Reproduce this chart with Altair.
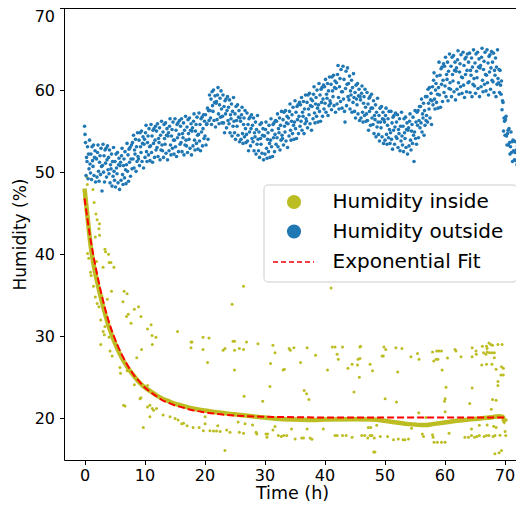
import altair as alt
import pandas as pd

# ---------------- data ----------------
# Humidity outside: 12 readings per hour (hour h, readings at h + i/12)
outside_rows = [
    "55.6 54.6 53.6 49.6 51.8 51.3 53.1 49.2 52.2 50.4 53.9 51.0",
    "49.9 52.2 49.1 53.1 51.4 50.7 53.3 49.6 51.8 52.6 48.8 51.7",
    "51.6 49.4 52.4 53.3 50.1 48.9 51.2 52.0 49.7 52.9 50.7 47.7",
    "50.8 53.4 50.0 52.0 48.8 52.7 51.1 52.9 49.4 51.5 53.2 50.3",
    "51.8 49.8 52.7 48.7 50.9 50.4 52.2 48.3 51.3 49.5 53.0 50.1",
    "49.0 51.3 48.2 52.2 50.5 49.8 52.4 48.7 50.9 51.7 47.9 50.8",
    "51.2 49.0 52.0 52.9 49.7 48.5 50.8 51.6 49.3 52.5 50.3 48.6",
    "50.9 53.5 50.1 52.1 48.9 52.8 51.2 53.0 49.5 51.6 53.3 50.4",
    "53.6 51.6 54.5 50.5 52.7 52.2 54.0 50.1 53.1 51.3 54.8 51.9",
    "51.6 53.9 50.8 54.8 53.1 52.4 55.0 51.3 53.5 54.3 50.5 53.4",
    "54.0 51.8 54.8 55.7 52.5 51.3 53.6 54.4 52.1 55.3 53.1 51.4",
    "53.2 55.8 52.4 54.4 51.2 55.1 53.5 55.3 51.8 53.9 55.6 52.7",
    "55.0 53.0 55.9 51.9 54.1 53.6 55.4 51.5 54.5 52.7 56.2 53.3",
    "52.6 54.9 51.8 55.8 54.1 53.4 56.0 52.3 54.5 55.3 51.5 54.4",
    "54.8 52.6 55.6 56.5 53.3 52.1 54.4 55.2 52.9 56.1 53.9 52.2",
    "53.9 56.5 53.1 55.1 51.9 55.8 54.2 56.0 52.5 54.6 56.3 53.4",
    "55.6 53.6 56.5 52.5 54.7 54.2 56.0 52.1 55.1 53.3 56.8 53.9",
    "53.2 55.5 52.4 56.4 54.7 54.0 56.6 52.9 55.1 55.9 52.1 55.0",
    "55.4 53.2 56.2 57.1 53.9 52.7 55.0 55.8 53.5 56.7 54.5 52.8",
    "54.6 57.2 53.8 55.8 52.6 56.5 54.9 56.7 53.2 55.3 57.0 54.1",
    "56.2 54.4 57.0 53.3 55.8 55.9 57.8 54.0 57.5 56.3 59.4 57.5",
    "56.6 58.9 55.8 59.8 58.1 57.4 60.0 56.3 58.5 59.3 55.5 58.4",
    "58.6 56.4 59.4 60.3 57.1 55.9 58.2 59.0 56.7 59.9 57.7 56.0",
    "56.8 59.4 56.0 58.0 54.8 58.7 57.1 58.9 55.4 57.5 59.2 56.3",
    "57.9 55.9 58.8 54.8 57.0 56.5 58.3 54.4 57.4 55.6 59.1 56.2",
    "54.8 57.1 54.0 58.0 56.3 55.6 58.2 54.5 56.7 57.5 53.7 56.6",
    "56.2 54.0 57.0 57.9 54.7 53.5 55.8 56.6 54.3 57.5 55.3 53.6",
    "54.6 57.2 53.8 55.8 52.6 56.5 54.9 56.7 53.2 55.3 57.0 54.1",
    "55.7 53.7 56.6 52.6 54.8 54.3 56.1 52.2 55.2 53.4 56.9 54.0",
    "52.6 54.9 51.8 55.8 54.1 53.4 56.0 52.3 54.5 55.3 51.5 54.4",
    "54.4 52.2 55.2 56.1 52.9 51.7 54.0 54.8 52.5 55.7 53.5 51.8",
    "53.9 56.5 53.1 55.1 51.9 55.8 54.2 56.0 52.5 54.6 56.3 53.4",
    "56.2 54.2 57.1 53.1 55.3 54.8 56.6 52.7 55.7 53.9 57.4 54.5",
    "54.1 56.4 53.3 57.3 55.6 54.9 57.5 53.8 56.0 56.8 53.0 55.9",
    "56.6 54.4 57.4 58.3 55.1 53.9 56.2 57.0 54.7 57.9 55.7 54.0",
    "56.1 58.7 55.3 57.3 54.1 58.0 56.4 58.2 54.7 56.8 58.5 55.6",
    "58.2 56.2 59.1 55.1 57.3 56.8 58.6 54.7 57.7 55.9 59.4 56.5",
    "56.2 58.5 55.4 59.4 57.7 57.0 59.6 55.9 58.1 58.9 55.1 58.0",
    "58.7 56.5 59.5 60.4 57.2 56.0 58.3 59.1 56.8 60.0 57.8 56.1",
    "58.2 60.8 57.4 59.4 56.2 60.1 58.5 60.3 56.8 58.9 60.6 57.7",
    "60.4 58.4 61.3 57.3 59.5 59.0 60.8 56.9 59.9 58.1 61.6 58.7",
    "58.4 60.7 57.6 61.6 59.9 59.2 61.8 58.1 60.3 61.1 57.3 60.2",
    "60.9 58.3 61.9 63.0 59.1 57.7 60.4 61.4 58.6 62.5 59.8 57.8",
    "59.8 62.9 58.9 61.3 57.4 56.1 60.2 62.3 58.1 60.7 62.7 59.2",
    "60.8 58.8 61.7 57.7 59.9 59.4 61.2 57.3 60.3 58.5 62.0 59.1",
    "57.4 59.7 56.6 60.6 58.9 58.2 60.8 57.1 59.3 60.1 56.3 59.2",
    "58.8 56.6 59.6 60.5 57.3 56.1 58.4 59.2 56.9 60.1 57.9 56.2",
    "57.1 59.7 56.3 58.3 55.1 59.0 57.4 59.2 55.7 57.8 59.5 56.6",
    "57.8 55.8 58.7 54.7 56.9 56.4 58.2 54.3 57.3 55.5 59.0 56.1",
    "54.6 56.9 53.8 57.8 56.1 55.4 58.0 54.3 56.5 57.3 53.5 56.4",
    "56.1 53.9 56.9 57.8 54.6 53.4 55.7 56.5 54.2 57.4 55.2 53.5",
    "54.8 57.4 54.0 56.0 52.8 56.7 55.1 56.9 53.4 55.5 57.2 54.3",
    "56.1 54.1 57.0 53.0 55.2 54.7 56.5 52.6 55.6 53.8 57.3 54.4",
    "53.3 55.6 52.5 56.5 54.8 54.1 56.7 53.0 55.2 56.0 52.2 55.1",
    "55.4 53.2 56.2 57.1 53.9 52.7 55.0 55.8 53.5 56.7 54.5 51.3",
    "54.9 57.5 54.1 56.1 53.4 57.3 55.7 57.5 54.2 56.3 58.0 55.4",
    "58.0 56.0 58.9 54.9 57.1 56.6 58.4 54.5 57.5 55.7 59.2 56.3",
    "56.9 59.2 56.1 60.1 58.4 57.7 60.3 56.6 58.8 59.6 55.8 58.7",
    "60.4 58.2 61.2 62.1 58.9 57.7 60.0 60.8 58.5 61.7 59.5 57.8",
    "60.3 63.4 59.4 61.8 57.9 62.6 60.7 62.8 58.6 61.2 63.2 59.7",
    "62.9 60.5 64.0 59.2 61.9 61.3 63.4 58.7 62.3 60.2 64.4 60.9",
    "60.1 62.9 59.2 64.0 61.9 61.1 64.2 59.8 62.4 63.4 58.8 62.3",
    "62.7 60.1 63.7 64.8 60.9 59.5 62.2 63.2 60.4 64.3 61.6 59.6",
    "61.5 64.6 60.6 63.0 59.1 63.8 61.9 64.0 59.8 62.4 64.4 60.9",
    "63.4 61.0 64.5 59.7 62.4 61.8 63.9 59.2 62.8 60.7 64.9 61.4",
    "60.5 63.3 59.6 64.4 62.3 61.5 64.6 60.2 62.8 63.8 59.2 62.7",
    "63.0 60.4 64.0 65.1 61.2 59.8 62.5 63.5 60.7 64.6 61.9 59.9",
    "61.8 64.9 60.9 63.3 59.4 64.1 62.2 64.3 60.1 62.7 64.7 61.2",
    "63.4 61.0 64.5 59.7 62.4 61.8 63.9 59.2 62.8 60.7 64.9 61.4",
    "60.9 62.5 59.7 62.4 60.6 59.5 61.1 57.6 58.7 58.5 55.0 56.6",
    "56.2 54.5 56.4 56.8 54.4 53.3 54.7 55.1 53.3 55.3 53.6 52.2",
    "53.1 54.9 52.4 53.7 51.3 53.9 52.6 53.8 51.5 52.4 53.7 51.4",
    "52.7 50.9 53.2 49.9 51.4 51.1 52.1 49.3 51.2 50.0 52.2 49.8",
    "49.2 50.6 48.6 50.9 49.6 48.9 50.6 47.8 49.4 49.9 47.3 49.1",
]

# Humidity inside: the dense main trace
inside_main_t = [0, 0.5, 1, 1.5, 2, 3, 4, 5, 6, 7, 8, 9, 10, 11, 12, 13, 14, 15, 16,
                 18, 20, 22, 25, 28, 30, 32, 35, 38, 40, 45, 48, 50, 52, 54, 56, 57,
                 58, 60, 62, 64, 66, 68, 69, 69.7, 70, 70.2]
inside_main_y = [48.0, 44.5, 41.2, 38.8, 37.0, 33.9, 31.3, 29.3, 27.7, 26.4, 25.4, 24.5,
                 23.8, 23.3, 22.8, 22.4, 22.1, 21.8, 21.6, 21.2, 20.95, 20.75, 20.5,
                 20.25, 20.1, 19.95, 19.85, 19.8, 19.85, 19.9, 19.85, 19.7, 19.5, 19.3,
                 19.2, 19.2, 19.3, 19.5, 19.7, 19.85, 20.0, 20.15, 20.25, 20.2, 19.6, 19.5]

# Humidity inside: scattered readings
inside_t = [
    0.36, 0.47, 1.4, 1.6, 1.9, 2.1, 2.5, 2.4, 1.8, 2.5, 3.4, 3.5, 4.0, 0.5, 0.7, 1.4, 4.1, 4.4,
    4.9, 3.1, 2.0, 1.0, 1.1, 1.5, 1.8, 2.6, 2.9, 4.5, 6.6, 7.1, 6.4, 2.1, 2.4, 3.8, 8.3, 9.0,
    9.4, 7.3, 7.0, 7.75, 2.7, 3.4, 4.1, 3.1, 3.3, 2.7, 10.5, 11.1, 11.25, 11.9, 11.3, 9.5,
    15.5, 4.25, 4.6, 8.7, 5.9, 6.0, 7.1, 8.3, 9.4, 10.5, 6.75, 10.5, 11.3, 12.0, 10.9, 11.5,
    10.9, 9.8, 6.5, 9.25, 13.1, 14.25, 15.1, 15.6, 16.5,
    26.5, 24.6, 41.1, 17.75, 17.9, 17.75, 19.75, 19.75, 20.75, 20.5, 24.75, 25.0, 23.1, 23.4,
    25.0, 25.8, 26.5, 27.0, 28.9, 25.0, 31.4, 31.75, 31.0, 33.1, 33.3, 30.9, 26.6, 29.7, 34.1,
    34.3, 34.9, 37.1, 38.5, 36.0, 36.6, 37.0, 37.4, 40.5, 41.3, 41.75, 43.0, 42.1, 42.3, 43.9,
    16.2, 17.1, 18.1, 19.1, 19.8, 20.1, 20.1, 20.9, 21.5, 22.0, 22.6, 22.2, 23.7, 24.25, 25.6,
    26.75, 25.8, 26.5, 28.0, 28.6, 28.7, 30.25, 30.5, 30.4, 31.75, 31.4, 32.3, 32.8, 33.2,
    33.7, 34.5, 35.1, 36.2, 36.5, 37.1, 37.6, 37.9, 39.8, 41.75, 42.1, 43.0, 43.6, 23.4,
    45.9, 46.0, 44.6, 45.6, 45.9, 45.5, 45.8, 44.9, 47.6, 48.0, 49.9, 50.2, 49.6, 49.8, 51.9,
    52.9, 52.2, 50.1, 52.0, 54.4, 55.5, 55.75, 58.0, 58.7, 59.1, 59.5, 58.2, 58.6, 58.9, 60.5,
    59.6, 60.25, 60.1, 60.0, 60.1, 55.7, 61.75, 61.9, 62.75, 64.6, 65.25, 65.3, 66.3, 67.0,
    67.4, 67.7, 68.0, 68.9, 69.6, 67.1, 67.1, 66.5, 66.9, 67.5, 67.9, 68.3, 64.6, 66.2, 67.0,
    67.9, 68.3, 68.6, 69.5, 69.8, 69.4, 69.8, 68.9, 68.9, 64.6, 68.0, 68.6, 64.2, 67.8,
    44.6, 46.2, 46.7, 47.2, 47.6, 47.9, 48.3, 47.3, 47.7, 48.7, 48.4, 49.3, 50.5, 51.5, 52.3,
    53.1, 53.4, 54.0, 54.5, 56.3, 56.5, 56.9, 58.0, 58.1, 58.25, 58.8, 59.5, 60.1, 60.75,
    63.4, 64.0, 64.5, 65.0, 65.4, 65.8, 66.6, 67.0, 67.4, 68.1, 68.4, 64.5, 65.8, 67.1, 68.2,
    68.6, 69.25, 70.2, 70.1, 68.4, 69.1, 69.5, 70.3, 48.2,
]
inside_y = [
    49.4, 48.5, 47.9, 46.3, 44.9, 44.2, 43.7, 43.1, 42.1, 42.3, 40.6, 40.3, 40.0, 40.1, 39.5,
    39.4, 39.0, 39.0, 38.4, 38.4, 39.1, 37.8, 37.4, 36.1, 34.8, 34.9, 34.9, 35.5, 35.5, 35.2,
    34.2, 34.0, 33.6, 34.5, 33.3, 33.6, 32.4, 32.7, 32.4, 31.6, 32.0, 31.2, 29.9, 30.6, 30.2,
    29.0, 30.9, 31.4, 30.1, 29.9, 29.0, 28.4, 30.6, 28.2, 27.6, 27.4, 26.2, 25.5, 25.8, 24.1,
    22.5, 24.0, 21.5, 21.4, 21.2, 21.2, 21.6, 21.0, 20.2, 18.9, 21.6, 22.4, 20.4, 20.2, 20.0,
    19.8, 19.4,
    36.1, 33.9, 35.9, 29.3, 29.3, 28.6, 29.9, 28.4, 29.8, 26.8, 29.4, 29.4, 28.3, 28.5, 28.3,
    28.5, 28.4, 29.3, 29.1, 25.9, 28.9, 28.0, 26.7, 25.9, 26.0, 23.9, 22.7, 22.1, 28.5, 28.3,
    28.6, 28.6, 27.7, 26.8, 23.4, 23.0, 22.3, 25.9, 28.7, 28.7, 28.7, 27.8, 27.2, 26.1,
    19.35, 19.1, 18.9, 18.9, 18.5, 20.2, 19.35, 18.5, 18.45, 18.45, 18.4, 19.1, 18.6, 18.3,
    19.55, 19.35, 18.3, 18.2, 19.2, 18.3, 18.1, 18.1, 18.1, 17.7, 19.0, 18.6, 17.9, 17.8,
    17.9, 17.9, 18.7, 17.5, 17.6, 17.6, 18.7, 17.6, 17.45, 18.7, 17.9, 17.9, 17.9, 17.9, 16.1,
    28.7, 28.8, 26.6, 27.2, 27.3, 26.5, 25.0, 23.2, 26.6, 25.8, 28.7, 28.4, 27.6, 27.6, 28.6,
    28.5, 25.65, 22.4, 22.0, 27.5, 27.9, 27.2, 28.1, 28.2, 28.2, 28.2, 27.0, 27.2, 27.2, 27.35,
    25.9, 23.8, 22.4, 22.1, 20.8, 20.7, 28.4, 28.2, 27.5, 28.6, 28.2, 27.8, 28.8, 28.8, 29.2,
    29.0, 28.9, 29.0, 29.0, 28.5, 28.1, 28.0, 27.8, 28.0, 28.0, 28.0, 27.5, 26.5, 26.6, 26.6,
    27.4, 26.0, 26.3, 26.1, 25.3, 25.3, 24.5, 24.0, 23.7, 22.3, 22.2, 21.8, 21.1,
    17.7, 17.9, 17.9, 17.6, 17.9, 17.9, 17.6, 18.9, 18.9, 19.15, 15.9, 17.8, 17.8, 17.4, 17.5,
    17.4, 17.4, 17.5, 18.8, 18.1, 17.8, 20.1, 18.0, 17.7, 17.1, 17.1, 17.1, 17.1, 18.2, 17.7,
    17.7, 17.9, 17.7, 17.8, 17.9, 17.8, 17.9, 17.9, 17.8, 17.9, 18.7, 19.15, 19.2, 19.05,
    18.9, 17.95, 17.9, 18.4, 15.7, 15.8, 16.1, 19.8, 15.9,
]

# Exponential fit curve
fit_t = [0, 1, 2, 3, 4, 5, 6, 7, 8, 9, 10, 11, 12, 13, 14, 15, 16, 18, 20, 22, 25, 30,
         35, 40, 50, 60, 70]
fit_y = [46.8, 41.8, 37.9, 34.6, 31.9, 29.8, 28.1, 26.7, 25.5, 24.6, 23.8, 23.2, 22.7,
         22.2, 21.9, 21.6, 21.4, 21.0, 20.75, 20.55, 20.35, 20.2, 20.15, 20.1, 20.1, 20.1,
         20.1]

x_ticks = [0, 10, 20, 30, 40, 50, 60, 70]
y_ticks = [20, 30, 40, 50, 60, 70]
legend_labels = ["Humidity inside", "Humidity outside", "Exponential Fit"]

OLIVE = "#bcbd22"
BLUE = "#1f77b4"
FONT = "DejaVu Sans"

# ---------------- tables ----------------
out_t, out_y = [], []
for h, row in enumerate(outside_rows):
    vals = [float(v) for v in row.split()]
    for i, v in enumerate(vals):
        out_t.append(h + i / len(vals))
        out_y.append(v)
df_out = pd.DataFrame({"t": out_t, "y": out_y})
df_in = pd.DataFrame({"t": inside_t, "y": inside_y})
df_main = pd.DataFrame({"t": inside_main_t, "y": inside_main_y})
df_fit = pd.DataFrame({"t": fit_t, "y": fit_y})

W, H = 452, 452
xs = alt.Scale(domain=[-3.42, -3.42 + W / 6.0], nice=False, zero=False)
ys = alt.Scale(domain=[14.93, 70], nice=False, zero=False)

xax = alt.Axis(values=x_ticks, title="Time (h)", grid=False, labelFontSize=16,
               titleFontSize=17.5, labelFont=FONT, titleFont=FONT, labelColor="black",
               titleColor="black", titleFontWeight="normal", tickColor="black",
               domainColor="black", tickSize=4.5, labelPadding=3,
               titleBaseline="alphabetic", titleY=38.5, titleX=W / 2 + 2,
               labelFlush=False)
yax = alt.Axis(values=y_ticks, title="Humidity (%)", grid=False, labelFontSize=16,
               titleFontSize=17, labelFont=FONT, titleFont=FONT, labelColor="black",
               titleColor="black", titleFontWeight="normal", tickColor="black",
               domainColor="black", tickSize=4.5, labelPadding=5, titlePadding=5,
               labelBaseline={"condition": {"test": "datum.value == 70", "value": "top"},
                              "value": "middle"},
               labelFlush=False)

X = alt.X("t:Q", scale=xs, axis=xax)
Y = alt.Y("y:Q", scale=ys, axis=yax)

inside_pts = alt.Chart(df_in).mark_circle(color=OLIVE, size=9, opacity=1, clip=True).encode(x=X, y=Y)
inside_line = alt.Chart(df_main).mark_line(color=OLIVE, strokeWidth=4.5, interpolate="monotone",
                                           clip=True).encode(x=X, y=Y)
outside_pts = alt.Chart(df_out).mark_circle(color=BLUE, size=13, opacity=1, clip=True).encode(x=X, y=Y)
fit_line = alt.Chart(df_fit).mark_line(color="red", strokeWidth=2, strokeDash=[7, 3],
                                       interpolate="monotone", clip=True).encode(x=X, y=Y)

one = alt.Data(values=[{"a": 1}])
top_spine = alt.Chart(one).mark_rule(color="black", strokeWidth=1).encode(
    x=alt.value(0), x2=alt.value(W), y=alt.value(0.5))

# legend box (matplotlib style)
leg_box = alt.Chart(one).mark_rect(fill="white", fillOpacity=0.8, stroke="#cccccc",
                                   strokeWidth=1, cornerRadius=4).encode(
    x=alt.value(200), x2=alt.value(453), y=alt.value(177), y2=alt.value(274))
leg_dot1 = alt.Chart(one).mark_circle(color=OLIVE, size=200, opacity=1).encode(
    x=alt.value(230), y=alt.value(194))
leg_dot2 = alt.Chart(one).mark_circle(color=BLUE, size=200, opacity=1).encode(
    x=alt.value(230), y=alt.value(223.5))
leg_dash = alt.Chart(one).mark_rule(color="red", strokeWidth=1.5, strokeDash=[5, 3]).encode(
    x=alt.value(209), x2=alt.value(250), y=alt.value(254))
leg_text = alt.Chart(pd.DataFrame({"label": legend_labels, "py": [194, 223.5, 254]})).mark_text(
    align="left", baseline="middle", fontSize=20, font=FONT, color="black").encode(
    x=alt.value(268.5), y=alt.Y("py:Q", scale=None), text="label:N")

chart = alt.layer(
    inside_pts, inside_line, outside_pts, fit_line, top_spine,
    leg_box, leg_dot1, leg_dot2, leg_dash, leg_text
).properties(
    width=W, height=H,
    autosize=alt.AutoSizeParams(type="none"),
    padding={"left": 56, "top": 0, "right": 0, "bottom": 43},
).configure_view(stroke=None).configure(background="white")

chart.save("out.html", embed_options={"renderer": "svg", "actions": False})
